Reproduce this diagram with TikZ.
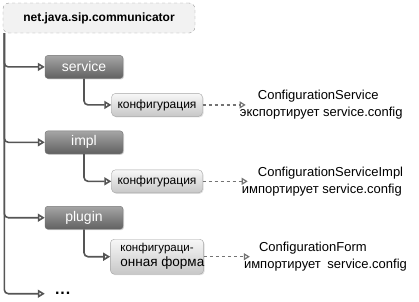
\documentclass[tikz,border=0pt]{standalone}
\usepackage{fontspec}
\setmainfont{Liberation Sans}
\usepackage{tikz}
\usetikzlibrary{positioning, arrows.meta, shadows}
\definecolor{linegray}{RGB}{85, 85, 85}
\definecolor{dashgray}{RGB}{115, 115, 115}

\begin{document}
\begin{tikzpicture}[
    x=1pt, y=1pt,
    root/.style={rectangle, draw=black!40, dashed, fill=black!5, rounded corners=6pt, minimum width=192pt, minimum height=30pt, font=\fontsize{12}{14}\selectfont\bfseries},
    pkg/.style={rectangle, draw=black!55, top color=black!35, bottom color=black!62, rounded corners=3pt, minimum width=78pt, minimum height=23pt, text=white, font=\fontsize{14}{16}\selectfont, drop shadow={shadow xshift=1pt, shadow yshift=-1pt, opacity=0.35}},
    conf/.style={rectangle, draw=black!35, top color=black!3, bottom color=black!22, rounded corners=4pt, minimum width=91pt, minimum height=23pt, font=\fontsize{12}{15}\selectfont, drop shadow={shadow xshift=1pt, shadow yshift=-1pt, opacity=0.25}},
    note/.style={inner sep=0pt, align=left, font=\fontsize{13}{17}\selectfont},
    more/.style={inner xsep=10pt, font=\fontsize{16}{18}\selectfont\bfseries},
    conn/.style={-{Triangle[open, length=7pt, width=8pt]}, line width=1.6pt, linegray, rounded corners=4pt},
    dasharrow/.style={-{Triangle[open, length=6pt, width=7pt]}, dash pattern=on 3pt off 3pt, line width=1.2pt, dashgray}
]
    \useasboundingbox (0,0) rectangle (419,-301);

    % Root package
    \node[root] (comm) at (99,-18) {net.java.sip.communicator};
    \coordinate (trunk) at ([xshift=1.5pt]comm.south west);

    % Bundles
    \node[pkg, below right=22pt and 42pt of comm.south west] (service) {service};
    \node[pkg, below=52pt of service] (impl) {impl};
    \node[pkg, below=52pt of impl] (plugin) {plugin};
    \node[more, anchor=west, yshift=-76pt] (dots) at (plugin.west) {.\kern1pt.\kern1pt.};

    % Configuration packages
    \node[conf, xshift=73pt, yshift=-38pt] (svcconf) at (service) {конфигурация};
    \node[conf, xshift=73pt, yshift=-39pt] (implconf) at (impl) {конфигурация};
    \node[conf, minimum height=35pt, align=left, inner xsep=10pt, xshift=73pt, yshift=-39pt] (plugconf) at (plugin)
        {\fontsize{11.5}{15}\selectfont конфигураци-\\\makebox[71pt][l]{\fontsize{13.5}{15}\selectfont онная форма}};

    % Notes
    \node[note, right=37pt of svcconf] (svcnote) {\hspace*{18pt}ConfigurationService\\экспортирует service.config};
    \node[note, right=39pt of implconf] (implnote) {\hspace*{16pt}ConfigurationServiceImpl\\импортирует service.config};
    \node[note, right=40pt of plugconf] (formnote) {\hspace*{15pt}ConfigurationForm\\импортирует\hspace{3pt} service.config};

    % Arrows
    \foreach \n in {service, impl, plugin, dots}
        \draw[conn] (trunk) |- (\n.west);
    \draw[conn] (service.south) |- (svcconf.west);
    \draw[conn] (impl.south) |- (implconf.west);
    \draw[conn] (plugin.south) |- (plugconf.west);
    \draw[dasharrow] (svcconf.east) -- ([xshift=6pt]svcconf.east -| svcnote.west);
    \draw[dasharrow] (implconf.east) -- ([xshift=6pt]implconf.east -| implnote.west);
    \draw[dasharrow] (plugconf.east) -- ([xshift=6pt]plugconf.east -| formnote.west);
\end{tikzpicture}
\end{document}
